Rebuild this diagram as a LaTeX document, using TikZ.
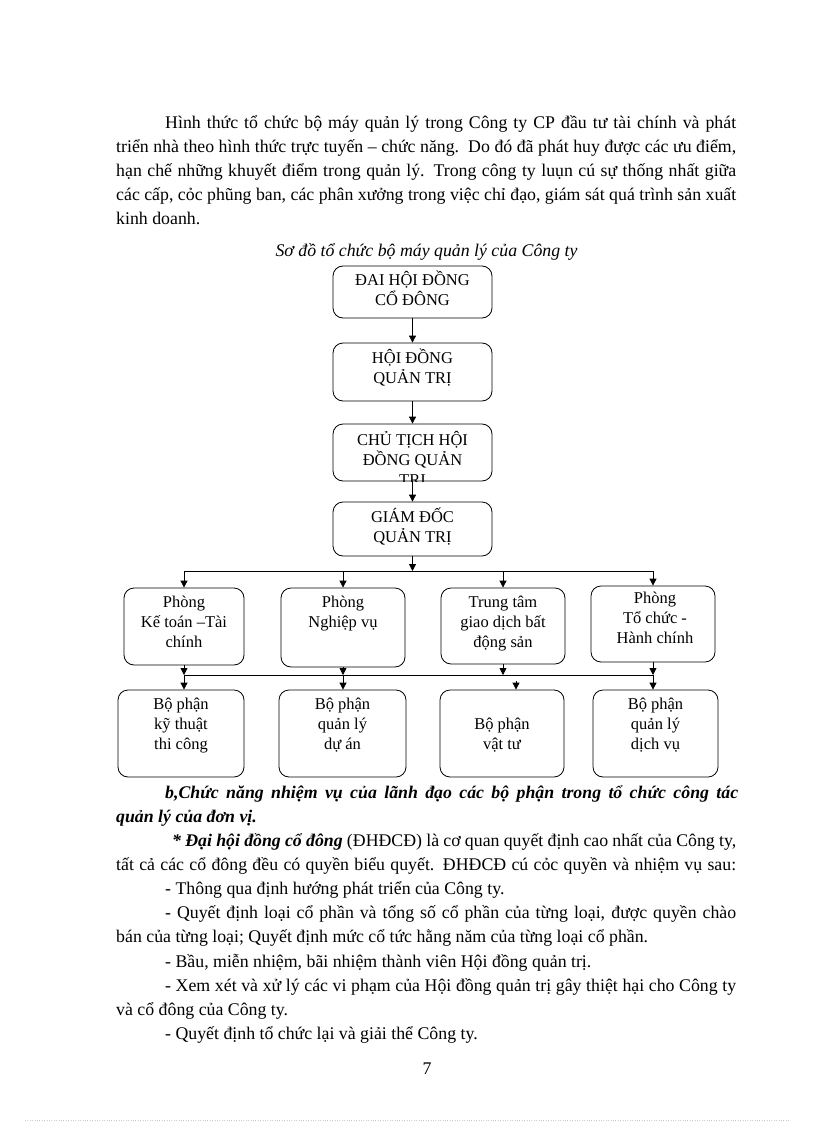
\documentclass[tikz,border=0pt]{standalone}
\usepackage{fontspec}
\setmainfont{Liberation Serif}
\usetikzlibrary{arrows.meta, positioning}
\tikzset{
  unit/.style={rectangle, draw, rounded corners=10pt, line width=0.8pt, inner sep=0pt},
  % base anchor of a multi-line text sits on its last line
  unittext/.style={align=center, anchor=base, inner sep=0pt,
                   font=\fontsize{16.5}{20}\selectfont},
  arrow/.style={-{Triangle[length=7pt, width=7pt]}, line width=0.8pt},
  bus/.style={line width=0.8pt},
  para/.style={anchor=base west, inner sep=0pt, font=\fontsize{17.8}{24}\selectfont},
}
\newcommand{\jline}[2]{\makebox[#1][s]{#2}}

\begin{document}
\begin{tikzpicture}[x=1pt, y=-1pt]
  \useasboundingbox (0,0) rectangle (816,1123);
  \fill[white] (0,0) rectangle (816,1123);

  % opening paragraph
  \node[para] (p1) at (165,129) {\jline{571pt}{Hình thức tổ chức bộ máy quản lý trong Công ty CP đầu tư tài chính và phát}};
  \node[para] (p2) at (116,153) {\jline{620pt}{triển nhà theo hình thức trực tuyến – chức năng.\ \ Do đó đã phát huy được các ưu điểm,}};
  \node[para] (p3) at (116,177) {\jline{620pt}{hạn chế những khuyết điểm trong quản lý. Trong công ty luụn cú sự thống nhất giữa}};
  \node[para] (p4) at (116,201) {\jline{620pt}{các cấp, cỏc phũng ban, các phân xưởng trong việc chỉ đạo, giám sát quá trình sản xuất}};
  \node[para] (p5) at (116,225) {kinh doanh.};

  \node[para, anchor=base, font=\fontsize{17.8}{24}\selectfont\itshape] (title) at (426.5,256)
    {Sơ đồ tổ chức bộ máy quản lý của Công ty};

  % management chain
  \node[unit, minimum width=159pt, minimum height=52pt] (dhdcd) at (412.5,292) {};
  \node[unit, minimum width=159pt, minimum height=58pt] (hdqt) at (412.5,372) {};
  \node[unit, minimum width=159pt, minimum height=57pt] (ctqt) at (412.5,452.5) {};
  \node[unit, minimum width=159pt, minimum height=54pt] (gdqt) at (412.5,529) {};

  \node[unittext] (dhdcd-t) at (412.5,305) {ĐAI HỘI ĐỒNG\\CỔ ĐÔNG};
  \node[unittext] (hdqt-t) at (412.5,383) {HỘI ĐỒNG\\QUẢN TRỊ};
  \node[unittext] (ctqt-t) at (412.5,465) {CHỦ TỊCH HỘI\\ĐỒNG QUẢN};
  \begin{scope}
    \clip[rounded corners=10pt] (ctqt.south west) rectangle (ctqt.north east);
    \node[unittext] (ctqt-t2) at (412.5,485) {TRỊ};
  \end{scope}
  \node[unittext] (gdqt-t) at (412.5,542) {GIÁM ĐỐC\\QUẢN TRỊ};

  % departments
  \node[unit, minimum width=120pt, minimum height=77pt] (pkt) at (184,626.5) {};
  \node[unit, minimum width=124pt, minimum height=79pt] (pnv) at (343,627.5) {};
  \node[unit, minimum width=124pt, minimum height=76pt] (ttgd) at (503,626) {};
  \node[unit, minimum width=124pt, minimum height=76pt] (ptc) at (653,624) {};

  \node[unittext] (pkt-t) at (184,647) {Phòng\\Kế toán –Tài\\chính};
  \node[unittext] (pnv-t) at (343,627) {Phòng\\Nghiệp vụ};
  \node[unittext] (ttgd-t) at (503,647) {Trung tâm\\giao dịch bất\\động sản};
  \node[unittext] (ptc-t) at (655,643) {Phòng\\Tổ chức -\\Hành chính};

  % sections
  \node[unit, minimum width=126pt, minimum height=87pt] (bpkt) at (181,733.5) {};
  \node[unit, minimum width=127pt, minimum height=87pt] (bpqlda) at (342.5,733.5) {};
  \node[unit, minimum width=124pt, minimum height=87pt] (bpvt) at (502,733.5) {};
  \node[unit, minimum width=125pt, minimum height=87pt] (bpdv) at (655.5,733.5) {};

  \node[unittext] (bpkt-t) at (181,749) {Bộ phận\\kỹ thuật\\thi công};
  \node[unittext] (bpqlda-t) at (342.5,749) {Bộ phận\\quản lý\\dự án};
  \node[unittext] (bpvt-t) at (502,749) {Bộ phận\\vật tư};
  \node[unittext] (bpdv-t) at (655.5,749) {Bộ phận\\quản lý\\dịch vụ};

  % connectors
  \draw[arrow] (dhdcd) -- (hdqt);
  \draw[arrow] (hdqt) -- (ctqt);
  \draw[arrow] (ctqt) -- (gdqt);

  \coordinate (busT) at (412.5,571);
  \draw[arrow] (gdqt) -- (busT);
  \draw[bus] (pkt.north |- busT) -- (ptc.north |- busT);
  \foreach \u in {pkt, pnv, ttgd, ptc}
    \draw[arrow] (\u.north |- busT) -- (\u.north);

  \coordinate (busB) at (412.5,675);
  \draw[bus] (pkt.south |- busB) -- (ptc.south |- busB);
  \foreach \u/\v in {pkt/bpkt, pnv/bpqlda, ptc/bpdv} {
    \draw[arrow] (\u.south) -- (\u.south |- busB);
    \draw[arrow] (\u.south |- busB) -- (\u.south |- \v.north);
  }
  \draw[arrow] (ttgd.south) -- (ttgd.south |- busB);
  \coordinate (vtin) at (516,681);
  \draw[arrow] (vtin) -- (vtin |- bpvt.north);

  % functions of the units
  \node[para] (q1) at (165,798) {\jline{573pt}{\bfseries\itshape b,Chức năng nhiệm vụ của lãnh đạo các bộ phận trong tổ chức công tác}};
  \node[para, font=\fontsize{17.8}{24}\selectfont\bfseries\itshape] (q2) at (116,822) {quản lý của đơn vị.};
  \node[para] (q3) at (172,846) {\jline{564pt}{\textbf{\textit{* Đại hội đồng cổ đông}} (ĐHĐCĐ) là cơ quan quyết định cao nhất của Công ty,}};
  \node[para] (q4) at (116,870) {\jline{620pt}{tất cả các cổ đông đều có quyền biểu quyết. ĐHĐCĐ cú cỏc quyền và nhiệm vụ sau:}};
  \node[para] (q5) at (165,894) {- Thông qua định hướng phát triển của Công ty.};
  \node[para] (q6) at (165,918) {\jline{571pt}{- Quyết định loại cổ phần và tổng số cổ phần của từng loại, được quyền chào}};
  \node[para] (q7) at (116,942) {bán của từng loại; Quyết định mức cổ tức hằng năm của từng loại cổ phần.};
  \node[para] (q8) at (165,967) {- Bầu, miễn nhiệm, bãi nhiệm thành viên Hội đồng quản trị.};
  \node[para] (q9) at (165,991) {\jline{571pt}{- Xem xét và xử lý các vi phạm của Hội đồng quản trị gây thiệt hại cho Công ty}};
  \node[para] (q10) at (116,1015) {và cổ đông của Công ty.};
  \node[para] (q11) at (165,1039) {- Quyết định tổ chức lại và giải thể Công ty.};

  \node[para, anchor=base] (pageno) at (427,1074) {7};
  \draw[gray!40, dotted] (25,1120) -- (790,1120);
\end{tikzpicture}
\end{document}
